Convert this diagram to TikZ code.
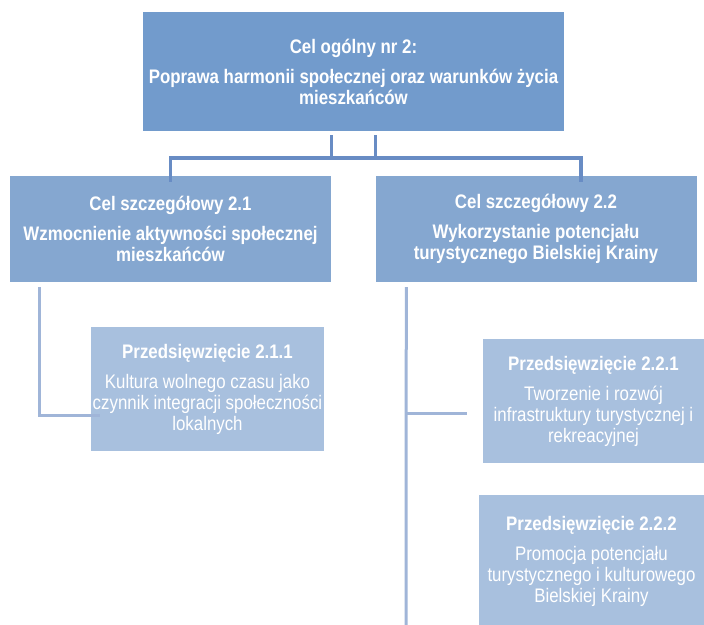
\documentclass[tikz,border=0pt]{standalone}
\usepackage{fontspec}
\setmainfont{Liberation Sans}[FakeStretch=0.86]
\usepackage{tikz}
\usetikzlibrary{positioning}

\definecolor{topblue}{RGB}{114,155,204}
\definecolor{midblue}{RGB}{133,167,208}
\definecolor{lowblue}{RGB}{168,192,222}
\definecolor{linetop}{RGB}{104,140,196}
\definecolor{linelow}{RGB}{160,181,216}

\tikzset{
  box/.style={rectangle, inner sep=0pt, align=center, text=white,
    font=\fontsize{19.6}{21}\selectfont},
  goalbox/.style={box, fill=topblue, minimum width=421pt, minimum height=119pt},
  aimbox/.style={box, fill=midblue, minimum width=321pt, minimum height=106pt},
  taskbox/.style={box, fill=lowblue, minimum height=124pt},
  toplink/.style={draw=linetop, line width=3.5pt},
  lowlink/.style={draw=linelow, line width=3pt}
}

\begin{document}
\begin{tikzpicture}[x=1pt,y=-1pt]
  \useasboundingbox (0,0) rectangle (704,624);

  \node[goalbox] (cel2) at (353.5,71.5)
    {\textbf{Cel ogólny nr 2:}\\[9pt]\textbf{Poprawa harmonii społecznej oraz warunków życia}\\\textbf{mieszkańców}};

  \node[aimbox] (cel21) at (170.5,229)
    {\textbf{Cel szczegółowy 2.1}\\[9pt]\textbf{Wzmocnienie aktywności społecznej}\\\textbf{mieszkańców}};
  \node[aimbox] (cel22) at (536,229)
    {\textbf{Cel szczegółowy 2.2}\\[9pt]\textbf{Wykorzystanie potencjału}\\\textbf{turystycznego Bielskiej Krainy}};

  \node[taskbox, minimum width=233pt] (p211) at (207.5,389)
    {\textbf{Przedsięwzięcie 2.1.1}\\[9pt]Kultura wolnego czasu jako\\czynnik integracji społeczności\\lokalnych};
  \node[taskbox, minimum width=221pt] (p221) at (593.5,401)
    {\textbf{Przedsięwzięcie 2.2.1}\\[9pt]Tworzenie i rozwój\\infrastruktury turystycznej i\\rekreacyjnej};
  \node[taskbox, minimum width=225pt, minimum height=132pt] (p222) at (591.5,561)
    {\textbf{Przedsięwzięcie 2.2.2}\\[9pt]Promocja potencjału\\turystycznego i kulturowego\\Bielskiej Krainy};

  % goal to aims
  \draw[toplink] ([xshift=22pt,yshift=-4pt]cel2.south) -- ++(0,23) -| ([yshift=-6pt]cel21.north);
  \draw[toplink] ([xshift=-22pt,yshift=-4pt]cel2.south) -- ++(0,23) -| ([xshift=45pt,yshift=-6pt]cel22.north);

  % aims to tasks
  \draw[lowlink] ([xshift=29.5pt,yshift=-5pt]cel21.south west) |- ([xshift=9pt,yshift=-26pt]p211.west);
  \coordinate (trunkend) at (406,626);
  \coordinate (fork221) at (406,413);
  \draw[lowlink] ([xshift=31pt,yshift=-5pt]cel22.south west) -- (trunkend);
  \draw[lowlink] (fork221) -- ([xshift=-16pt,yshift=-12pt]p221.west);
\end{tikzpicture}
\end{document}
